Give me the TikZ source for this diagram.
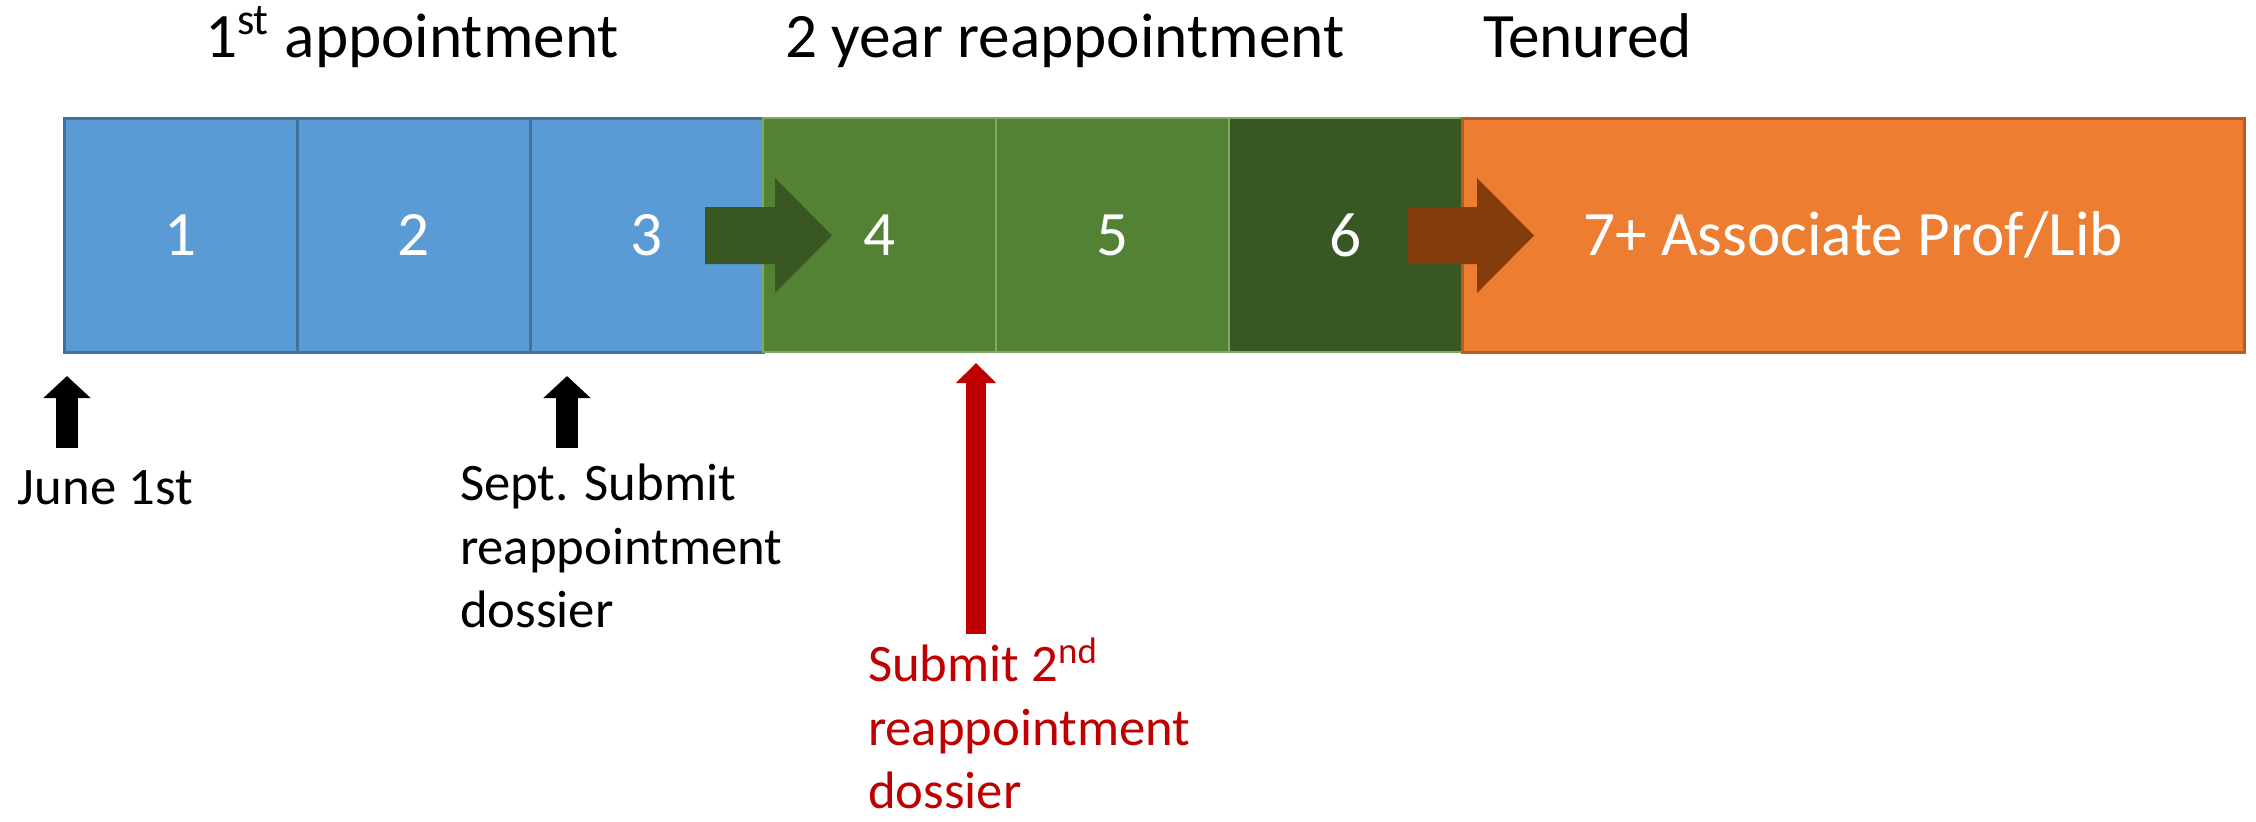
\documentclass[tikz,border=0pt]{standalone}
\usepackage{fontspec}
\setmainfont{Carlito}
\usetikzlibrary{positioning,arrows.meta}

\definecolor{yrblue}{HTML}{5B9BD5}
\definecolor{yrblueline}{HTML}{41719C}
\definecolor{yrgreen}{HTML}{548235}
\definecolor{yrdkgreen}{HTML}{385723}
\definecolor{yrgreenline}{HTML}{80A867}
\definecolor{yrorange}{HTML}{ED7D31}
\definecolor{yrorangeline}{HTML}{B65E22}
\definecolor{yrbrown}{HTML}{843C0C}
\definecolor{yrred}{HTML}{C00000}

\begin{document}
\begin{tikzpicture}[
	x = 0.1mm, y = -0.1mm,
	node distance = 0pt,
	every node/.style = {inner sep = 0pt, outer sep = 0pt},
	year/.style = {shape = rectangle, minimum width = 23.3mm, minimum height = 23.4mm,
		text = white, font = \fontsize{18}{22}\selectfont, line width = 0.3mm},
	first/.style = {year, fill = yrblue, draw = yrblueline},
	second/.style = {year, fill = yrgreen, draw = yrgreenline, line width = 0.15mm},
	third/.style = {year, fill = yrdkgreen, draw = yrgreenline, line width = 0.15mm},
	tenure/.style = {year, fill = yrorange, draw = yrorangeline, minimum width = 78.2mm},
	heading/.style = {anchor = base west, font = \fontsize{18}{22}\selectfont},
	note/.style = {anchor = base west, align = left, font = \fontsize{15}{17.93}\selectfont},
	pointer/.style = {line width = 2.2mm, -{Triangle[width = 4.6mm, length = 2.2mm]}},
	redpointer/.style = {yrred, line width = 2mm, -{Triangle[width = 3.9mm, length = 2mm]}}
	]
	\useasboundingbox (0,0) rectangle (2256,821);

	% headings
	\node[heading] (h1) at (205,57) {1\textsuperscript{st} appointment};
	\node[heading] (h2) at (785,57) {2 year reappointment};
	\node[heading] (h3) at (1483,57) {Tenured};

	% the years
	\node[first] (y1) at (180.5,235) {1};
	\node[first, right = of y1] (y2) {2};
	\node[first, right = of y2] (y3) {3};
	\node[second, right = of y3] (y4) {4};
	\node[second, right = of y4] (y5) {5};
	\node[third, right = of y5] (y6) {6};
	\node[tenure, right = of y6] (y7) {7+ Associate Prof/Lib};

	% block arrows between stages
	\foreach \x/\c in {705/yrdkgreen, 1407/yrbrown}
		\fill[\c] (\x,207) -- ++(70,0) -- ++(0,-29) -- ++(57,57.5) -- ++(-57,57.5)
			-- ++(0,-29) -- ++(-70,0) -- cycle;

	% dates
	\coordinate (junetip) at (67,376);
	\coordinate (junefoot) at (67,448);
	\coordinate (septtip) at (567,376);
	\coordinate (septfoot) at (567,448);
	\coordinate (secondtip) at (976,363);
	\coordinate (secondfoot) at (976,634);
	\draw[pointer] (junefoot) -- (junetip);
	\draw[pointer] (septfoot) -- (septtip);
	\draw[redpointer] (secondfoot) -- (secondtip);

	% the base anchor sits on the last line
	\node[note] (june) at (18,504) {June 1st};
	\node[note] (sept) at (460,627) {Sept. Submit\\reappointment\\dossier};
	\node[note, text = yrred] (second) at (868,808) {Submit 2\textsuperscript{nd}\\reappointment\\dossier};
\end{tikzpicture}
\end{document}
